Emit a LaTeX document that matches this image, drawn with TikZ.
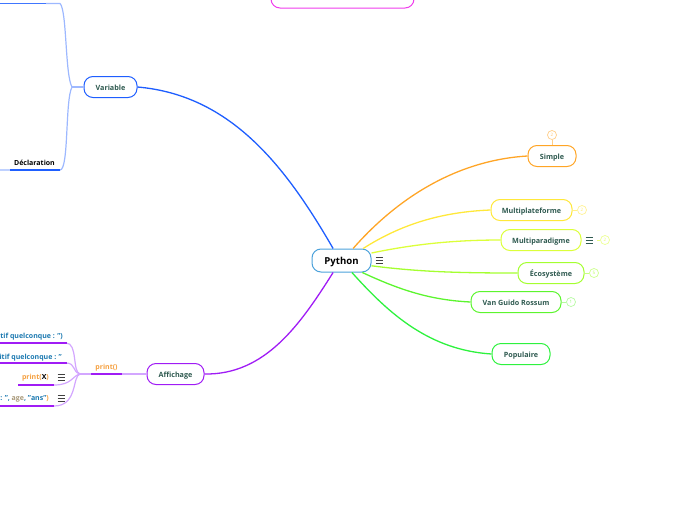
\documentclass[tikz,border=0pt]{standalone}
\usepackage{fontspec}
\setmainfont{Open Sans}
\usepackage{xcolor}
\definecolor{leaftext}{HTML}{2F5A50}
\definecolor{codeblue}{HTML}{1A78B0}
\definecolor{codeorange}{HTML}{F5A040}
\definecolor{codetan}{HTML}{A89878}
\definecolor{varblue}{HTML}{1E5EFF}
\definecolor{varlight}{HTML}{9DB8FF}
\definecolor{printpurple}{HTML}{A01CF5}
\definecolor{printlight}{HTML}{D3A6FF}
\definecolor{simpleorange}{HTML}{FFA526}
\definecolor{plateyellow}{HTML}{FFE83A}
\definecolor{paralime}{HTML}{DCFF3A}
\definecolor{ecolime}{HTML}{A4FF30}
\definecolor{vangreen}{HTML}{5CF52E}
\definecolor{popgreen}{HTML}{2EF23E}
\definecolor{hautmagenta}{HTML}{F03CEC}
\tikzset{
  topic/.style={draw,line width=1pt,rounded corners=9pt,inner sep=0pt,minimum height=21pt,fill=white,
    text=leaftext,text height=6.5pt,text depth=0pt,font=\fontsize{7.2}{9}\bfseries\selectfont},
  badge/.style={draw,circle,line width=0.7pt,inner sep=0pt,minimum size=9pt,font=\fontsize{4.5}{5}\selectfont},
  codetext/.style={anchor=east,inner sep=0pt,font=\fontsize{7}{9}\bfseries\selectfont},
  mainedge/.style={line width=1.3pt},
  stem/.style={line width=1.2pt},
  noteicon/.pic={
    \draw[line width=0.7pt,color=#1] (-3.5,-3) -- (3.5,-3) (-3.5,0) -- (3.5,0) (-3.5,3) -- (3.5,3);
  }
}
\begin{document}
\begin{tikzpicture}[x=1pt,y=-1pt]
  \useasboundingbox (0,0) rectangle (697,520);
  \clip (0,0) rectangle (697,520);
  % centre and main topics
  \node[topic,draw=blue!40!cyan!80!black!70,text=black,minimum width=59pt,minimum height=23pt,text height=8.5pt,font=\fontsize{9.6}{11}\bfseries\selectfont] (python) at (341.5,260.5) {Python};
  \node[topic,draw=simpleorange,minimum width=48pt] (simple) at (552,156) {Simple};
  \node[topic,draw=plateyellow,minimum width=81pt] (multiplateforme) at (531.5,210) {Multiplateforme};
  \node[topic,draw=paralime,minimum width=80pt] (multiparadigme) at (541,240) {Multiparadigme};
  \node[topic,draw=ecolime,minimum width=66pt] (ecosysteme) at (551,273) {Écosystème};
  \node[topic,draw=vangreen,minimum width=90pt] (vanrossum) at (516,302) {Van Guido Rossum};
  \node[topic,draw=popgreen,minimum width=58pt] (populaire) at (521,354) {Populaire};
  \node[topic,draw=varblue,minimum width=53pt] (variable) at (110.5,87) {Variable};
  \node[topic,draw=printpurple,minimum width=57pt] (affichage) at (175.5,374) {Affichage};
  \node[topic,draw=hautmagenta,minimum width=143pt,minimum height=24pt] (haut) at (342.5,-4) {};
  % edges from the centre
  \draw[varblue,mainedge] (variable.east) .. controls (230,95) and (285,165) .. (python.125);
  \draw[printpurple,mainedge] (affichage.east) .. controls (265,375) and (300,325) .. (python.235);
  \draw[simpleorange,mainedge] (simple.west) .. controls (460,160) and (400,195) .. (python.46);
  \draw[plateyellow,mainedge] (multiplateforme.west) .. controls (440,212) and (400,225) .. (python.29);
  \draw[paralime,mainedge] (multiparadigme.west) .. controls (450,240) and (410,245) .. (python.14);
  \draw[ecolime,mainedge] (ecosysteme.west) .. controls (460,273) and (420,272) .. (python.-10);
  \draw[vangreen,mainedge] (vanrossum.west) .. controls (430,300) and (400,290) .. (python.-30);
  \draw[popgreen,mainedge] (populaire.west) .. controls (430,350) and (390,315) .. (python.-49);
  % badges
  \node[badge,draw=simpleorange!55,text=simpleorange!70] (bsimple) at (552,135) {2};
  \node[badge,draw=plateyellow!55,text=plateyellow!80] (bplateforme) at (582,210) {2};
  \node[badge,draw=paralime!55,text=paralime!80] (bparadigme) at (605,240) {2};
  \node[badge,draw=ecolime!55,text=ecolime!80] (becosysteme) at (594,273) {5};
  \node[badge,draw=vangreen!45,text=vangreen!70] (bvanrossum) at (571,302) {1};
  \draw[simpleorange!55,line width=1pt] (simple) -- (bsimple);
  \draw[plateyellow!60,line width=1pt] (multiplateforme) -- (bplateforme);
  \coordinate (noteparadigme) at (597,240);
  \draw[paralime!60,line width=1pt] (noteparadigme) -- (bparadigme);
  \draw[ecolime!60,line width=1pt] (ecosysteme) -- (becosysteme);
  \draw[vangreen!45,line width=1pt] (vanrossum) -- (bvanrossum);
  \pic at (379,260) {noteicon={black!75}};
  \pic at (589,240) {noteicon={leaftext}};
  % branch of variable
  \coordinate (hubvar) at (72,87);
  \coordinate (typeend) at (60,3.5);
  \coordinate (declend) at (60,170);
  \node[inner sep=0pt,font=\fontsize{7}{9}\bfseries\selectfont] (declaration) at (34.5,162.5) {Déclaration};
  \draw[varlight,stem] (variable.west) -- (hubvar);
  \draw[varlight,stem] (hubvar) .. controls (65,75) and (67,10) .. (typeend) -- (46,3.5);
  \draw[varlight,stem] (hubvar) .. controls (65,100) and (69,170) .. (declend) -- (0,170);
  \draw[varblue!85!white,line width=1.6pt] (0,3.5) -- (46,3.5);
  \draw[varblue,line width=1.6pt] (10,170) -- (declend);
  % branch of print
  \coordinate (hubprint) at (80,374);
  \node[inner sep=0pt,text=codeorange,font=\fontsize{7}{9}\bfseries\selectfont] (print) at (106.5,367.2) {print()};
  \draw[printlight,stem] (affichage.west) -- (122,374);
  \draw[printpurple,line width=1.6pt] (91,374) -- (122,374);
  \draw[printlight,stem] (91,374) -- (hubprint);
  \node[codetext,text=codeblue] (inputa) at (63,336.5) {tif quelconque : ")};
  \node[codetext,text=codeblue] (inputb) at (62,357.5) {sitif quelconque : "};
  \node[codetext] (printx) at (49,378) {\textcolor{codeorange}{print(}X\textcolor{codeorange}{)}};
  \node[codetext,text=codeblue] (printage) at (49,399) {: ", \textcolor{codetan}{age}, "ans"\textcolor{codeorange}{)}};
  \pic at (61,377) {noteicon={black!75}};
  \pic at (61,398) {noteicon={black!75}};
  \draw[printlight,stem] (hubprint) .. controls (72,372) and (78,343) .. (66,343);
  \draw[printlight,stem] (hubprint) .. controls (72,372) and (76,363) .. (66,363);
  \draw[printlight,stem] (hubprint) .. controls (72,376) and (72,385) .. (54,385);
  \draw[printlight,stem] (hubprint) .. controls (72,376) and (78,406) .. (54,406);
  \draw[printpurple,line width=1.6pt] (0,343) -- (67,343);
  \draw[printpurple,line width=1.6pt] (0,363) -- (67,363);
  \draw[printpurple,line width=1.6pt] (18,385) -- (54,385);
  \draw[printpurple,line width=1.6pt] (0,406) -- (54,406);
\end{tikzpicture}
\end{document}
